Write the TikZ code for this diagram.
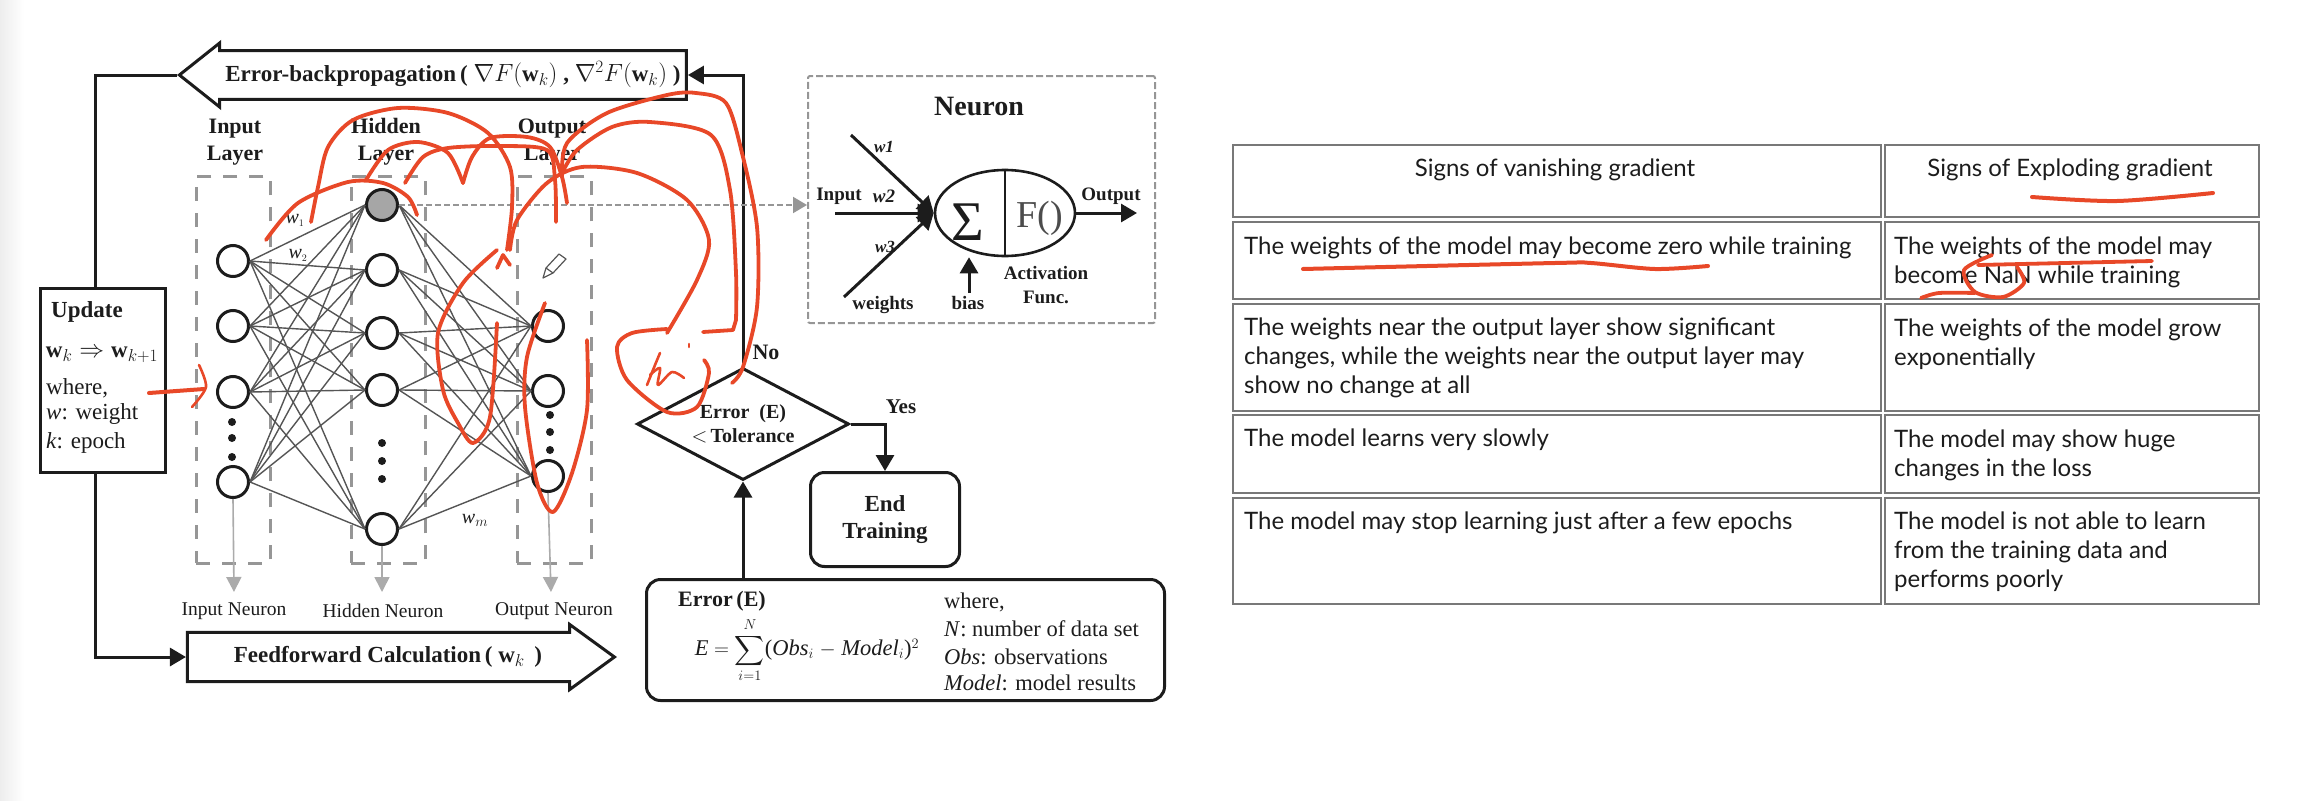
\documentclass[tikz,border=0pt]{standalone}
\usepackage{amsmath}
\usepackage{fontspec}
\setmainfont{Liberation Serif}
\newfontfamily\tablefont{Lato}
\usetikzlibrary{shapes.geometric, shapes.arrows, arrows.meta, positioning}
\definecolor{inkblack}{RGB}{28, 28, 28}
\definecolor{boxgray}{RGB}{150, 150, 150}
\definecolor{linkgray}{RGB}{85, 85, 85}
\definecolor{cellgray}{RGB}{120, 120, 120}
\definecolor{scribblered}{RGB}{232, 72, 40}
\tikzstyle{arrow} = [line width=3,-{Triangle[length=16,width=18]},draw=inkblack]
\tikzstyle{grayarrow} = [line width=1.6,-{Triangle[length=15,width=15]},draw=boxgray!80]
\tikzstyle{dotarrow} = [line width=2,dash pattern=on 6 off 3,-{Triangle[length=14,width=16]},draw=boxgray]
\tikzstyle{link} = [line width=1.4,draw=linkgray]
\tikzstyle{bigarrow} = [single arrow, draw=inkblack, line width=3, fill=white, inner sep=0, text height=21, text depth=21, text width=0]
\tikzstyle{layerbox} = [rectangle, draw=boxgray, line width=2.5, dash pattern=on 14 off 12, minimum width=74, minimum height=387, anchor=north west]
\tikzstyle{neuronnode} = [circle, draw=inkblack, line width=3, fill=white, minimum size=31, inner sep=0]
\tikzstyle{nndot} = [circle, fill=inkblack, minimum size=8, inner sep=0]
\tikzstyle{flowbox} = [rectangle, rounded corners=14, draw=inkblack, line width=3, anchor=north west, align=center]
\tikzstyle{headtext} = [font=\fontsize{23}{27}\selectfont\bfseries, text=inkblack, inner sep=0, align=center]
\tikzstyle{plaintext} = [font=\fontsize{22.5}{27}\selectfont, text=inkblack, inner sep=0, anchor=west]
\tikzstyle{neurontext} = [font=\fontsize{19}{24}\selectfont\bfseries, text=inkblack, inner sep=0, align=center]
\tikzstyle{cell} = [rectangle, draw=cellgray, line width=2, anchor=north west]
\tikzstyle{celltext} = [font=\tablefont\fontsize{24}{29}\selectfont, text=inkblack, inner sep=0, anchor=west, align=left]
\tikzstyle{scribble} = [draw=scribblered, line width=3.8, line cap=round, line join=round]
\begin{document}
\begin{tikzpicture}[x=1pt, y=-1pt]
\useasboundingbox (0,0) rectangle (2314,800);
\shade [left color=black!7, right color=white] (0,0) rectangle (24,800);

% Layers
\node (inputbox) [layerbox] at (195,175) {};
\node (hiddenbox) [layerbox] at (350,175) {};
\node (outputbox) [layerbox] at (516,175) {};
\node (inputlabel) [headtext, font=\fontsize{22}{27}\selectfont\bfseries] at (235,142) {Input\\Layer};
\node (hiddenlabel) [headtext, font=\fontsize{22}{27}\selectfont\bfseries] at (386,142) {Hidden\\Layer};
\node (outputlabel) [headtext, font=\fontsize{22}{27}\selectfont\bfseries] at (552,142) {Output\\Layer};

% Neuron names
\node (inputname) [font=\fontsize{19.5}{24}\selectfont, text=inkblack] at (234,611) {Input Neuron};
\node (hiddenname) [font=\fontsize{19.5}{24}\selectfont, text=inkblack] at (383,611) {Hidden Neuron};
\node (outputname) [font=\fontsize{19.5}{24}\selectfont, text=inkblack] at (554,611) {Output Neuron};
\coordinate (inputend) at (234,592);
\coordinate (hiddenend) at (382,592);
\coordinate (outputend) at (551,592);

% Input neurons
\node (i1) [neuronnode] at (233,261) {};
\node (i2) [neuronnode] at (233,326) {};
\node (i3) [neuronnode] at (233,392) {};
\node (i4) [neuronnode] at (233,482) {};
% Hidden neurons
\node (h1) [neuronnode, fill=gray!70] at (382,205) {};
\node (h2) [neuronnode] at (382,270) {};
\node (h3) [neuronnode] at (382,333) {};
\node (h4) [neuronnode] at (382,390) {};
\node (h5) [neuronnode] at (382,529) {};
% Output neurons
\node (o1) [neuronnode] at (548,326) {};
\node (o2) [neuronnode] at (548,391) {};
\node (o3) [neuronnode] at (548,476) {};

\foreach \a in {i1,i2,i3,i4}
  \foreach \b in {h1,h2,h3,h4,h5}
    \draw [link] (\a.east) -- (\b.west);
\foreach \a in {h1,h2,h3,h4,h5}
  \foreach \b in {o1,o2,o3}
    \draw [link] (\a.east) -- (\b.west);

\draw [grayarrow] (i4.south) -- (inputend);
\draw [grayarrow] (h5.south) -- (hiddenend);
\draw [grayarrow] (o3.south) -- (outputend);

% Dots
\node (d1) [nndot] at (232,422) {};
\node (d2) [nndot] at (232,438) {};
\node (d3) [nndot] at (232,457) {};
\node (d4) [nndot] at (382,443) {};
\node (d5) [nndot] at (382,461) {};
\node (d6) [nndot] at (382,479) {};
\node (d7) [nndot] at (550,415) {};
\node (d8) [nndot] at (550,432) {};
\node (d9) [nndot] at (550,450) {};

% Weights
\node (w1) [font=\fontsize{20}{24}\selectfont\itshape, text=inkblack] at (295,220) {w$_{\scriptscriptstyle 1}$};
\node (w2) [font=\fontsize{20}{24}\selectfont\itshape, text=inkblack] at (298,255) {w$_{\scriptscriptstyle 2}$};
\node (wm) [font=\fontsize{20}{24}\selectfont\itshape, text=inkblack] at (475,520) {w$_{\scriptstyle m}$};

% Big arrows
\node (backprop) [bigarrow, shape border rotate=180, minimum height=507, minimum width=64, single arrow tip angle=77, anchor=tip] at (177,75) {};
\node (backtext) [headtext] at (453,75) {Error-backpropagation\,( $\nabla F(\mathbf{w}_k)$ , $\nabla^2 F(\mathbf{w}_k)$ )};
\node (feed) [bigarrow, minimum height=427, minimum width=65, single arrow tip angle=72, anchor=tip] at (617,657) {};
\node (feedtext) [headtext] at (388,657) {Feedforward Calculation\,( $\mathbf{w}_k$\, )};

% Update
\node (update) [rectangle, draw=inkblack, line width=3, minimum width=125, minimum height=184, anchor=north west] at (39,287) {};
\node (updatetitle) [headtext, anchor=west] at (51,312) {Update};
\node (updaterule) [headtext] at (102,355) {$\mathbf{w}_k \Rightarrow \mathbf{w}_{k+1}$};
\node (updatewhere) [plaintext, font=\fontsize{23}{27}\selectfont] at (46,388) {where,};
\node (updateweight) [plaintext, font=\fontsize{23}{27}\selectfont] at (46,414) {\textit{w}: weight};
\node (updateepoch) [plaintext, font=\fontsize{23}{27}\selectfont] at (46,443) {\textit{k}: epoch};

% Decision
\node (decision) [diamond, draw=inkblack, line width=3, fill=white, minimum width=212, minimum height=112, aspect=1.9, inner sep=0, font=\fontsize{20}{24}\selectfont\bfseries, text=inkblack, align=center] at (743,424) {Error\enspace(E)\\[0pt]$<$\,Tolerance};
\node (nolabel) [headtext, font=\fontsize{22}{27}\selectfont\bfseries] at (766,352) {No};
\node (yeslabel) [headtext, font=\fontsize{21}{27}\selectfont\bfseries] at (901,407) {Yes};
\node (endbox) [flowbox, minimum width=149, minimum height=94, font=\fontsize{23}{27}\selectfont\bfseries, text=inkblack] at (809,471) {End\\Training};
\node (errorbox) [flowbox, minimum width=518, minimum height=121] at (645,578) {};
\node (errortitle) [headtext, font=\fontsize{22}{27}\selectfont\bfseries] at (722,601) {Error\,(E)};
\node (formula) [font=\fontsize{22.5}{27}\selectfont, text=inkblack, inner sep=0] at (807,650) {\textit{E} $=\displaystyle\sum_{i=1}^{N}$(\textit{Obs}$_i$ $-$ \textit{Model}$_i$)$^2$};
\node (wherea) [plaintext] at (944,602) {where,};
\node (whereb) [plaintext] at (944,629) {\textit{N}: number of data set};
\node (wherec) [plaintext] at (944,657) {\textit{Obs}: observations};
\node (whered) [plaintext] at (944,683) {\textit{Model}: model results};

% Neuron
\node (neuronbox) [rectangle, draw=boxgray, line width=2, dash pattern=on 7 off 3, rounded corners=2, minimum width=347, minimum height=247, anchor=north west] at (807,75) {};
\node (neurontitle) [font=\fontsize{28}{32}\selectfont\bfseries, text=inkblack] at (979,107) {Neuron};
\node (neuron) [ellipse, draw=inkblack, line width=2.6, minimum width=140, minimum height=86, inner sep=0] at (1005,213) {};
\node (sigma) [font=\fontsize{56}{56}\selectfont, text=inkblack, inner sep=0] at (968,222) {Σ};
\node (ffunc) [font=\fontsize{38}{40}\selectfont, text=black!70, inner sep=0] at (1040,218) {F()};
\coordinate (in1) at (851,135);
\coordinate (in2) at (835,213);
\coordinate (in3) at (844,297);
\coordinate (biasin) at (969,293);
\coordinate (outend) at (1137,213);
\node (w1n) [neurontext, font=\fontsize{17}{20}\selectfont\bfseries\itshape] at (884,147) {w1};
\node (inputn) [neurontext] at (839,196) {Input};
\node (w2n) [neurontext, font=\fontsize{19}{20}\selectfont\bfseries\itshape] at (884,196) {w2};
\node (w3n) [neurontext, font=\fontsize{17}{20}\selectfont\bfseries\itshape] at (885,247) {w3};
\node (outputn) [neurontext] at (1111,196) {Output};
\node (weightsn) [neurontext] at (883,305) {weights};
\node (biasn) [neurontext] at (968,303) {bias};
\node (activation) [neurontext] at (1046,285) {Activation\\Func.};

% Arrows
\draw [line width=3,draw=inkblack] (backprop.tip) -| ([xshift=-8]update.north);
\draw [arrow] ([xshift=-8]update.south) |- (feed.tail);
\draw [arrow] (decision.north) |- (backprop.tail);
\draw [arrow] (errorbox.north -| decision.south) -- (decision.south);
\draw [arrow] (decision.east) -| (endbox.north);
\draw [line width=2.6,draw=inkblack] (neuron.north) -- (neuron.south);
\draw [arrow] (in1) -- (neuron.west);
\draw [arrow] (in2) -- (neuron.west);
\draw [arrow] (in3) -- (neuron.west);
\draw [arrow] (biasin) -- (biasin |- neuron.south);
\draw [arrow] (neuron.east) -- (outend);
\draw [dotarrow] (h1.east) -- (neuronbox.west |- h1.east);

% Pencil
\draw [draw=linkgray, line width=1.2, fill=white, line join=round] (543,278) -- (546,268) -- (559,254) -- (566,259) -- (553,273) -- cycle;
\draw [draw=linkgray, line width=1.2] (546,268) -- (553,273);

% Table
\node (c11) [cell, minimum width=648, minimum height=72] at (1232,144) {};
\node (c12) [cell, minimum width=374, minimum height=72] at (1884,144) {};
\node (c21) [cell, minimum width=648, minimum height=77] at (1232,221) {};
\node (c22) [cell, minimum width=374, minimum height=77] at (1884,221) {};
\node (c31) [cell, minimum width=648, minimum height=107] at (1232,303) {};
\node (c32) [cell, minimum width=374, minimum height=107] at (1884,303) {};
\node (c41) [cell, minimum width=648, minimum height=78] at (1232,414) {};
\node (c42) [cell, minimum width=374, minimum height=78] at (1884,414) {};
\node (c51) [cell, minimum width=648, minimum height=106] at (1232,497) {};
\node (c52) [cell, minimum width=374, minimum height=106] at (1884,497) {};
\node (t11) [celltext, anchor=center] at (1555,170) {Signs of vanishing gradient};
\node (t12) [celltext, anchor=center] at (2070,170) {Signs of Exploding gradient};
\node (t21) [celltext] at (1244,248) {The weights of the model may become zero while training};
\node (t22) [celltext] at (1894,262) {The weights of the model may\\become NaN while training};
\node (t31) [celltext] at (1244,358) {The weights near the output layer show significant\\changes, while the weights near the output layer may\\show no change at all};
\node (t32) [celltext] at (1894,344) {The weights of the model grow\\exponentially};
\node (t41) [celltext] at (1244,440) {The model learns very slowly};
\node (t42) [celltext] at (1894,455) {The model may show huge\\changes in the loss};
\node (t51) [celltext] at (1244,523) {The model may stop learning just after a few epochs};
\node (t52) [celltext] at (1894,552) {The model is not able to learn\\from the training data and\\performs poorly};

% Red pen
\draw [scribble] plot [smooth] coordinates {(266,240) (298,203) (348,182) (383,183) (408,197) (417,215)};
\draw [scribble] plot [smooth] coordinates {(311,222) (318,187) (328,147) (353,120) (398,108) (448,113) (488,133) (510,167) (512,207) (507,250)};
\draw [scribble] plot [smooth] coordinates {(366,180) (388,150) (418,142) (448,153) (463,183)};
\draw [scribble] plot [smooth] coordinates {(463,183) (472,157) (490,138) (527,137) (550,147) (562,177) (567,203)};
\draw [scribble] plot [smooth] coordinates {(405,183) (423,157) (448,148) (498,146) (547,150) (555,180) (556,222)};
\draw [scribble] plot [smooth] coordinates {(562,177) (567,143) (607,113) (667,95) (696,93) (726,103) (742,153) (757,227) (757,307) (743,367) (732,383)};
\draw [scribble] plot [smooth] coordinates {(562,173) (577,150) (612,127) (650,122) (711,135) (730,190) (736,273) (736,320)};
\draw [scribble] (736,320) -- (733,330) -- (703,332);
\draw [scribble] plot [smooth] coordinates {(510,250) (517,220) (547,183) (582,167) (637,173) (687,200) (709,240) (697,280) (667,333)};
\draw [scribble] plot [smooth] coordinates {(667,329) (632,333) (617,347) (627,380) (667,412) (697,407) (709,373) (704,360)};
\draw [scribble] plot [smooth] coordinates {(497,250) (463,283) (438,333) (443,390) (458,423) (473,443) (490,417) (497,323)};
\draw [scribble] plot [smooth] coordinates {(545,303) (527,357) (525,407) (537,483) (553,512) (572,473) (587,410) (587,340)};
\draw [scribble] (497,268) -- (503,255) -- (510,265);
\draw [scribble, line width=2.6] plot [smooth] coordinates {(647,385) (655,365) (660,353)};
\draw [scribble, line width=2.6] plot [smooth] coordinates {(650,375) (660,368) (658,385) (672,372) (684,378)};
\draw [scribble, line width=2.6] (689,344) -- (689,347);
\draw [scribble, line width=4] (149,393) -- (204,389);
\draw [scribble, line width=2.6] plot [smooth] coordinates {(199,365) (206,387) (192,407)};
\draw [scribble, line width=4] plot [smooth] coordinates {(1303,269) (1555,263) (1591,263) (1655,269) (1708,266)};
\draw [scribble, line width=4] plot [smooth] coordinates {(2032,197) (2117,201) (2213,193)};
\draw [scribble] (1978,265) -- (2152,261);
\draw [scribble] plot [smooth] coordinates {(1992,255) (1964,270) (1975,292) (2003,297) (2024,283) (2017,267)};
\draw [scribble] plot [smooth] coordinates {(1921,298) (1939,293) (1975,293)};

\end{tikzpicture}
\end{document}
